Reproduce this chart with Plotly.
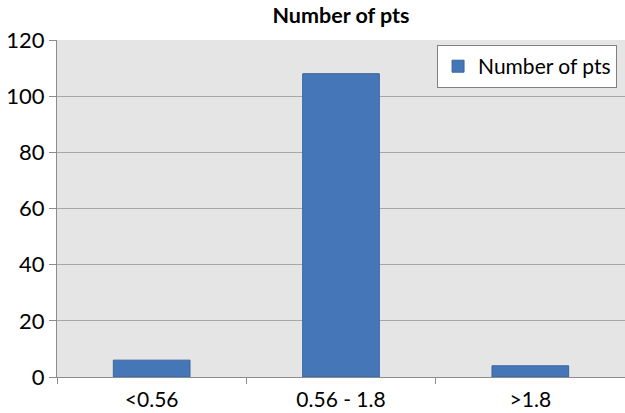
import plotly.graph_objects as go

categories = ["<0.56", "0.56 - 1.8", ">1.8"]
values = [6, 108, 4]
series_name = "Number of pts"
y_ticks = [0, 20, 40, 60, 80, 100, 120]

FONT = "Lato, Calibri, Carlito, sans-serif"

fig = go.Figure()
fig.add_trace(go.Bar(
    x=categories, y=values, name=series_name,
    marker=dict(color="#4576B8", line=dict(color="#3A679F", width=1)),
    showlegend=True,
))

fig.update_layout(
    width=625, height=413,
    margin=dict(l=57, r=0, t=40, b=36, autoexpand=False),
    paper_bgcolor="white",
    plot_bgcolor="#E5E5E5",
    bargap=0.595,
    font=dict(family=FONT, size=20, color="#000000"),
    title=dict(text="<b>Number of pts</b>", x=0.5, xref="paper", xanchor="center",
               y=0.962, yanchor="middle", font=dict(family=FONT, size=21.5)),
    showlegend=True,
    legend=dict(x=0.986, y=0.985, xanchor="right", yanchor="top",
                bgcolor="white", bordercolor="#808080", borderwidth=1,
                font=dict(family=FONT, size=21), itemwidth=30,
                tracegroupgap=0),
    xaxis=dict(
        type="category", showgrid=False, showline=True, linecolor="#8C8C8C",
        linewidth=1, ticks="outside", tickson="boundaries", ticklen=6,
        tickcolor="#8C8C8C", tickfont=dict(family=FONT, size=21),
        range=[-0.5, 2.5], automargin=False, ticklabelstandoff=4,
    ),
    yaxis=dict(
        range=[0, 120], tickvals=y_ticks, showgrid=True, gridcolor="#A6A6A6",
        gridwidth=1, showline=True, linecolor="#8C8C8C", linewidth=1,
        ticks="outside", ticklen=7, tickcolor="#8C8C8C", zeroline=False,
        tickfont=dict(family=FONT, size=22), automargin=False,
    ),
)

fig.write_html("out.html", config={"displayModeBar": False},
               post_script="document.body.style.margin='0';document.body.style.overflow='hidden';")
